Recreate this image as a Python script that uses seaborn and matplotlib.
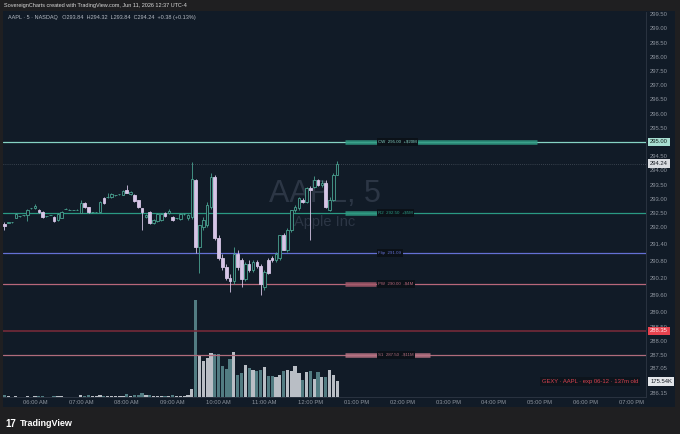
import pandas as pd
import numpy as np
import seaborn as sns
import matplotlib
matplotlib.use("Agg")
import matplotlib.pyplot as plt
import matplotlib.transforms as mtransforms
from matplotlib.patches import Rectangle

# ---------------- data ----------------
# AAPL 5 minute bars, 05:20 -> 12:35
opens = [
    292.11, 292.15, 292.18, 292.32, 292.39, 292.43, 292.43, 292.68, 292.68, 292.61,
    292.54, 292.39, 292.43, 292.36, 292.25, 292.32, 292.64, 292.61, 292.61, 292.61,
    292.50, 292.86, 292.71, 292.54, 292.54, 292.54, 293.03, 293.06, 293.06, 293.13,
    293.17, 293.13, 293.31, 293.17, 293.13, 292.96, 292.68, 292.36, 292.54, 292.15,
    292.22, 292.25, 292.50, 292.50, 292.36, 292.32, 292.29, 292.46, 292.32, 292.36,
    293.66, 291.30, 292.01, 292.08, 292.71, 293.77, 291.62, 290.92, 290.60, 290.21,
    290.11, 291.06, 290.85, 290.18, 290.70, 290.49, 290.77, 290.63, 289.89, 290.85,
    290.92, 290.85, 290.92, 291.73, 291.20, 291.90, 292.61, 292.68, 292.96, 292.89,
    293.38, 293.42, 293.66, 293.49, 293.56, 292.61, 292.96, 293.84,
]
highs = [
    292.18, 292.18, 292.18, 292.50, 292.39, 292.43, 292.64, 292.68, 292.82, 292.64,
    292.57, 292.39, 292.43, 292.39, 292.50, 292.57, 292.68, 292.64, 292.61, 292.64,
    292.96, 292.89, 292.71, 292.54, 292.54, 292.93, 293.06, 293.20, 293.20, 293.13,
    293.17, 293.31, 293.49, 293.27, 293.17, 292.96, 292.68, 292.46, 292.57, 292.29,
    292.50, 292.50, 292.54, 292.64, 292.39, 292.32, 292.50, 292.50, 292.46, 294.30,
    293.70, 292.08, 292.36, 292.89, 293.91, 293.84, 291.73, 291.06, 290.70, 290.35,
    291.30, 291.20, 290.92, 290.77, 290.85, 290.85, 290.85, 290.70, 290.49, 290.92,
    290.99, 291.13, 291.73, 291.80, 291.97, 292.61, 292.78, 293.06, 293.03, 293.42,
    293.45, 293.80, 293.70, 293.66, 293.66, 293.06, 293.91, 294.32,
]
lows = [
    291.90, 292.15, 292.15, 292.32, 292.36, 292.39, 292.22, 292.64, 292.64, 292.50,
    292.32, 292.36, 292.43, 292.18, 292.22, 292.32, 292.64, 292.61, 292.61, 292.61,
    292.50, 292.68, 292.50, 292.50, 292.54, 292.54, 292.82, 293.03, 293.03, 293.10,
    293.13, 293.13, 293.20, 293.13, 292.89, 292.68, 291.90, 292.32, 292.11, 292.11,
    292.18, 292.22, 292.36, 292.46, 292.22, 292.29, 292.25, 292.43, 292.25, 292.29,
    291.09, 290.39, 291.90, 292.01, 292.64, 291.55, 290.85, 290.49, 290.14, 289.72,
    290.00, 290.49, 289.89, 290.11, 290.42, 290.42, 290.56, 289.61, 289.79, 290.35,
    290.78, 290.78, 290.85, 291.20, 291.13, 291.83, 292.54, 292.61, 292.85, 292.85,
    291.55, 293.38, 293.45, 293.42, 292.68, 292.57, 292.92, 293.84,
]
closes = [
    292.04, 292.18, 292.18, 292.46, 292.39, 292.43, 292.61, 292.68, 292.75, 292.54,
    292.36, 292.39, 292.43, 292.22, 292.46, 292.54, 292.64, 292.61, 292.61, 292.61,
    292.86, 292.71, 292.54, 292.54, 292.54, 292.89, 292.86, 293.06, 293.17, 293.13,
    293.17, 293.27, 293.20, 293.24, 292.92, 292.71, 292.54, 292.43, 292.15, 292.25,
    292.46, 292.46, 292.39, 292.57, 292.25, 292.32, 292.46, 292.46, 292.43, 293.70,
    291.30, 292.08, 292.25, 292.78, 293.77, 291.62, 290.92, 290.60, 290.21, 290.11,
    291.06, 290.60, 290.18, 290.70, 290.49, 290.77, 290.63, 290.00, 290.42, 290.39,
    290.85, 291.06, 291.73, 291.20, 291.90, 292.61, 292.71, 293.03, 292.89, 293.38,
    293.31, 293.66, 293.49, 293.56, 292.71, 292.96, 293.84, 294.24,
]
# volume in thousands
volumes = [
    18, 6, 5, 12, 4, 5, 10, 4, 9, 8, 10, 5, 4, 9, 11, 10, 4, 3, 3, 4,
    22, 14, 18, 9, 8, 20, 16, 10, 14, 9, 8, 16, 30, 14, 22, 24, 40, 18, 22, 14,
    16, 14, 12, 15, 24, 10, 16, 9, 20, 85,
    1090, 475, 400, 438, 494, 486, 486, 345, 315, 427, 505, 251, 270, 363, 326,
    300, 289, 307, 333, 240, 233, 225, 251, 289, 307, 289, 352, 270, 196, 281,
    296, 207, 277, 225, 225, 307, 251, 175.54,
]

# GEX levels
level_names = ["CW", "R2", "Flip", "PW", "S1"]
level_prices = [295.00, 292.50, 291.09, 290.00, 287.50]
level_gex = ["+$20M", "+$5M", "", "-$4M", "-$11M"]
red_line_price = 288.35
last_price = 294.24

hour_ticks = list(range(6 * 60, 19 * 60 + 1, 60))
hour_labels = ["06:00 AM", "07:00 AM", "08:00 AM", "09:00 AM", "10:00 AM", "11:00 AM",
               "12:00 PM", "01:00 PM", "02:00 PM", "03:00 PM", "04:00 PM", "05:00 PM",
               "06:00 PM", "07:00 PM"]
price_ticks = [299.50, 299.00, 298.50, 298.00, 297.50, 297.00, 296.50, 296.00, 295.50,
               295.00, 294.50, 294.00, 293.50, 293.00, 292.50, 292.00, 291.40, 290.80,
               290.20, 289.60, 289.00, 288.50, 288.00, 287.50, 287.05, 286.15]

# ---------------- style ----------------
BG = "#111b27"
FRAME = "#1f1f21"
UP = "#4aa391"
DOWN = "#d6c5e6"
VOL_UP = "#b9bec5"
VOL_DN = "#527c82"
TXT = "#8d949e"

level_style = {
    "CW":   dict(line="#86d3c4", lw=0.9, bar="#2f9a82", bar_end=0.8305),
    "R2":   dict(line="#2a9a83", lw=0.9, bar="#2f9a82", bar_end=0.5832),
    "Flip": dict(line="#6470d4", lw=0.9, bar=None, bar_end=None),
    "PW":   dict(line="#b7677a", lw=0.9, bar="#a55a6b", bar_end=0.5800),
    "S1":   dict(line="#b06c7c", lw=0.9, bar="#b87384", bar_end=0.6640),
}

sns.set_theme(style="dark")
plt.rcParams["font.family"] = ["Liberation Sans", "DejaVu Sans"]

df = pd.DataFrame({"open": opens, "high": highs, "low": lows, "close": closes, "volume": volumes})
times = pd.date_range("2026-06-11 05:20", periods=len(df), freq="5min")
df["t"] = times.hour * 60 + times.minute
df["dir"] = np.where(df["close"] >= df["open"], "up", "down")

fig = plt.figure(figsize=(6.8, 4.34), dpi=100, facecolor=FRAME)
fig.add_artist(Rectangle((3 / 680, 1 - 407 / 434), 672 / 680, 396 / 434,
                         transform=fig.transFigure, facecolor=BG, edgecolor="none", zorder=-5))

rect = [3 / 680, 1 - 397 / 434, 643 / 680, 385 / 434]
ax2 = fig.add_axes(rect)
ax = fig.add_axes(rect, sharex=ax2)
ax2.patch.set_visible(False)
ax.patch.set_visible(False)

# volume (seaborn)
sns.barplot(data=df, x="t", y="volume", hue="dir", hue_order=["up", "down"],
            palette={"up": VOL_UP, "down": VOL_DN}, native_scale=True, dodge=False,
            width=0.84, saturation=1, errorbar=None, legend=False, linewidth=0, ax=ax2)
ax2.set_ylim(0, 4338)
ax2.set_xlabel("")
ax2.set_ylabel("")
ax2.yaxis.set_visible(False)
ax2.xaxis.set_visible(False)
for s in ax2.spines.values():
    s.set_visible(False)

# candles
body_lo = np.minimum(df["open"], df["close"])
body_h = np.maximum((df["close"] - df["open"]).abs(), 0.012)
for d, face, edge in [("up", BG, UP), ("down", DOWN, DOWN)]:
    m = df["dir"] == d
    ax.vlines(df["t"][m], df["low"][m], df["high"][m], color=edge, lw=0.6, zorder=3)
    ax.bar(df["t"][m], body_h[m], bottom=body_lo[m], width=3.4, facecolor=face,
           edgecolor=edge, linewidth=0.6, zorder=4)

ax.set_xlim(318.2, 1158.7)
ax.set_ylim(286.021, 299.577)

# levels
blend = mtransforms.blended_transform_factory(ax.transAxes, ax.transData)
for name, price, gex in zip(level_names, level_prices, level_gex):
    st = level_style[name]
    ax.axhline(price, color=st["line"], lw=st["lw"], zorder=2)
    if st["bar"] is not None:
        ax.plot([0.5319, st["bar_end"]], [price, price], color=st["bar"], lw=3.3,
                alpha=0.85, solid_capstyle="butt", transform=blend, zorder=2.5)
    label = f"{name}  {price:.2f}" + (f"  {gex}" if gex else "")
    ax.text(0.5835, price, label, transform=blend, fontsize=3.2, color=st["line"],
            va="center", ha="left", zorder=6,
            bbox=dict(boxstyle="square,pad=0.35", fc="#0b1118", ec="none"))
ax.axhline(red_line_price, color="#7d2b3a", lw=1.1, zorder=2)
ax.axhline(last_price, color="#5c6570", lw=0.5, ls=(0, (1, 2)), zorder=1.5)

# watermark
ax.text(0.50, 0.527, "AAPL, 5", transform=ax.transAxes, fontsize=22, color="#2c3645",
        ha="center", va="center", zorder=0)
ax.text(0.50, 0.4545, "Apple Inc", transform=ax.transAxes, fontsize=10.5, color="#2c3645",
        ha="center", va="center", zorder=0)

# axes
ax.yaxis.tick_right()
ax.set_yticks(price_ticks)
ax.set_yticklabels([f"{v:.2f}" for v in price_ticks])
ax.set_xticks(hour_ticks)
ax.set_xticklabels(hour_labels)
ax.tick_params(axis="both", length=0, labelsize=4.2, labelcolor=TXT)
ax.tick_params(axis="y", pad=2.9)
ax.tick_params(axis="x", pad=2.2)
ax.grid(False)
for s in ["top", "left"]:
    ax.spines[s].set_visible(False)
for s in ["right", "bottom"]:
    ax.spines[s].set_color("#2a3340")
    ax.spines[s].set_linewidth(0.7)

# axis tags
tag_tr = mtransforms.blended_transform_factory(ax.transAxes, ax.transData)
for price, fc, tc in [(295.00, "#a8dfd2", "#10201c"), (last_price, "#d9dce1", "#141a22"),
                      (red_line_price, "#e8434f", "#ffe9ec")]:
    ax.text(1.0065, price, f"{price:.2f}", transform=tag_tr, fontsize=4.2, color=tc,
            ha="left", va="center", zorder=7,
            bbox=dict(boxstyle="square,pad=0.3", fc=fc, ec="none"))
vol_tr = mtransforms.blended_transform_factory(ax2.transAxes, ax2.transData)
ax2.text(1.0065, volumes[-1], f"{volumes[-1]:.2f}K", transform=vol_tr, fontsize=4.2,
         color="#141a22", ha="left", va="center", zorder=7, clip_on=False,
         bbox=dict(boxstyle="square,pad=0.3", fc="#e3e6ea", ec="none"))

ax.text(0.988, 0.04, "GEXY · AAPL · exp 06-12 · 137m old", transform=ax.transAxes,
        fontsize=4.2, color="#d9424f", ha="right", va="center", zorder=7,
        bbox=dict(boxstyle="square,pad=0.3", fc="#0d141c", ec="none"))

# header / footer text
fig.text(4 / 680, 1 - 6 / 434, "SovereignCharts created with TradingView.com, Jun 11, 2026 12:37 UTC-4",
         fontsize=4, color="#d8d8d8", va="center", ha="left")
fig.text(8 / 680, 1 - 17 / 434,
         "AAPL · 5 · NASDAQ   O293.84  H294.32  L293.84  C294.24  +0.38 (+0.13%)",
         fontsize=4, color="#b4bac3", va="center", ha="left")
fig.text(5 / 680, 1 - 424 / 434, "17", fontsize=7, fontweight="bold", color="white",
         va="center", ha="left")
fig.text(20 / 680, 1 - 424 / 434, "TradingView", fontsize=6.5, fontweight="bold",
         color="white", va="center", ha="left")

fig.savefig("out.png", dpi=100, facecolor=FRAME)
